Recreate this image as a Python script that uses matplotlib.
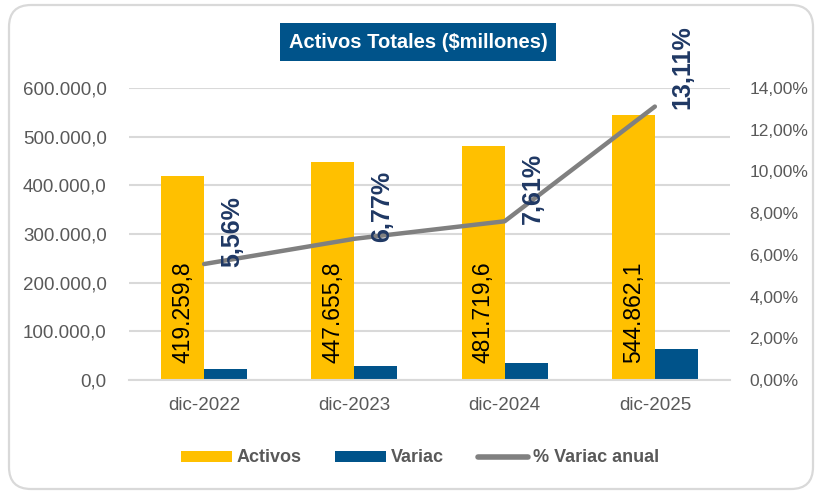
#!/usr/bin/env python3
"""Activos Totales ($millones) - bars + % variation line on secondary axis."""
import matplotlib
matplotlib.use("Agg")
import matplotlib.pyplot as plt
from matplotlib.patches import FancyBboxPatch, Patch
from matplotlib.lines import Line2D
from matplotlib.transforms import IdentityTransform
from matplotlib.ticker import FuncFormatter, MultipleLocator

plt.rcParams.update({"font.family": ["Liberation Sans", "DejaVu Sans"]})

# data
periods = ["dic-2022", "dic-2023", "dic-2024", "dic-2025"]
activos = [419259.8, 447655.8, 481719.6, 544862.1]
variac = [22083.0, 28396.0, 34064.0, 63142.5]
pct_variac = [5.56, 6.77, 7.61, 13.11]

GOLD = "#FFC000"
BLUE = "#00538A"
GRAY_LINE = "#808080"
NAVY = "#1F3864"
TXT = "#595959"
GRID = "#D9D9D9"


def es_num(v, dec):
    s = f"{v:,.{dec}f}"
    return s.replace(",", "X").replace(".", ",").replace("X", ".")


fig = plt.figure(figsize=(8.17, 4.93), dpi=100)
ax = fig.add_axes([129 / 817, 1 - 380 / 493, 601 / 817, 292 / 493])
ax2 = ax.twinx()

x = list(range(len(periods)))
w = 0.287
ax.bar([i - w / 2 for i in x], activos, width=w, color=GOLD, zorder=2)
ax.bar([i + w / 2 for i in x], variac, width=w, color=BLUE, zorder=2)

for i, v in zip(x, activos):
    ax.annotate(es_num(v, 1), xy=(i - w / 2, 0), xytext=(0, 12),
                textcoords="offset points", rotation=90, ha="center",
                va="bottom", fontsize=16.5, color="black", zorder=3)

ax.set_xlim(-0.5, len(periods) - 0.5)
ax.set_ylim(0, 600000)
ax.yaxis.set_major_locator(MultipleLocator(100000))
ax.yaxis.set_major_formatter(FuncFormatter(lambda v, p: es_num(v, 1)))
ax.set_xticks(x)
ax.set_xticklabels(periods)
ax.set_axisbelow(True)
ax.yaxis.grid(True, color=GRID, linewidth=1.5)
ax.tick_params(axis="y", length=0, pad=16, labelsize=13.5, labelcolor=TXT)
ax.tick_params(axis="x", length=0, pad=12, labelsize=13.5, labelcolor=TXT)
for side in ["top", "left", "right"]:
    ax.spines[side].set_visible(False)
ax.spines["bottom"].set_color(GRID)
ax.spines["bottom"].set_linewidth(1.5)

ax2.plot(x, pct_variac, color=GRAY_LINE, linewidth=3.2,
         solid_capstyle="round", zorder=3)
for i, p in zip(x, pct_variac):
    ax2.annotate(f"{p:.2f}%".replace(".", ","), xy=(i, p), xytext=(20, -2),
                 textcoords="offset points", rotation=90, ha="center",
                 va="bottom", fontsize=18, fontweight="bold", color=NAVY)
ax2.set_ylim(0, 14)
ax2.yaxis.set_major_locator(MultipleLocator(2))
ax2.yaxis.set_major_formatter(FuncFormatter(lambda v, p: f"{v:.2f}%".replace(".", ",")))
ax2.tick_params(axis="y", length=0, pad=14, labelsize=12.5, labelcolor=TXT)
for side in ["top", "left", "right", "bottom"]:
    ax2.spines[side].set_visible(False)

# title box
fig.text(418 / 817, 1 - 42 / 493, "Activos Totales ($millones)", ha="center",
         va="center", fontsize=14.5, fontweight="bold", color="white",
         bbox=dict(boxstyle="square,pad=0.45", facecolor=BLUE, edgecolor="none"))

handles = [Patch(facecolor=GOLD), Patch(facecolor=BLUE),
           Line2D([], [], color=GRAY_LINE, linewidth=4, solid_capstyle="round")]
leg = fig.legend(handles, ["Activos", "Variac", "% Variac anual"],
                 loc="center", bbox_to_anchor=(420 / 817, 1 - 458 / 493),
                 ncol=3, frameon=False, handlelength=2.8, handleheight=0.55,
                 handletextpad=0.25, columnspacing=1.9,
                 prop={"weight": "bold", "size": 13})
for t in leg.get_texts():
    t.set_color(TXT)

# rounded outer frame
fig.patches.append(FancyBboxPatch((9, 4), 804, 484,
                                  boxstyle="round,pad=0,rounding_size=22",
                                  transform=IdentityTransform(),
                                  facecolor="none", edgecolor=GRID, linewidth=1.6))

fig.savefig("out.png", dpi=100)
